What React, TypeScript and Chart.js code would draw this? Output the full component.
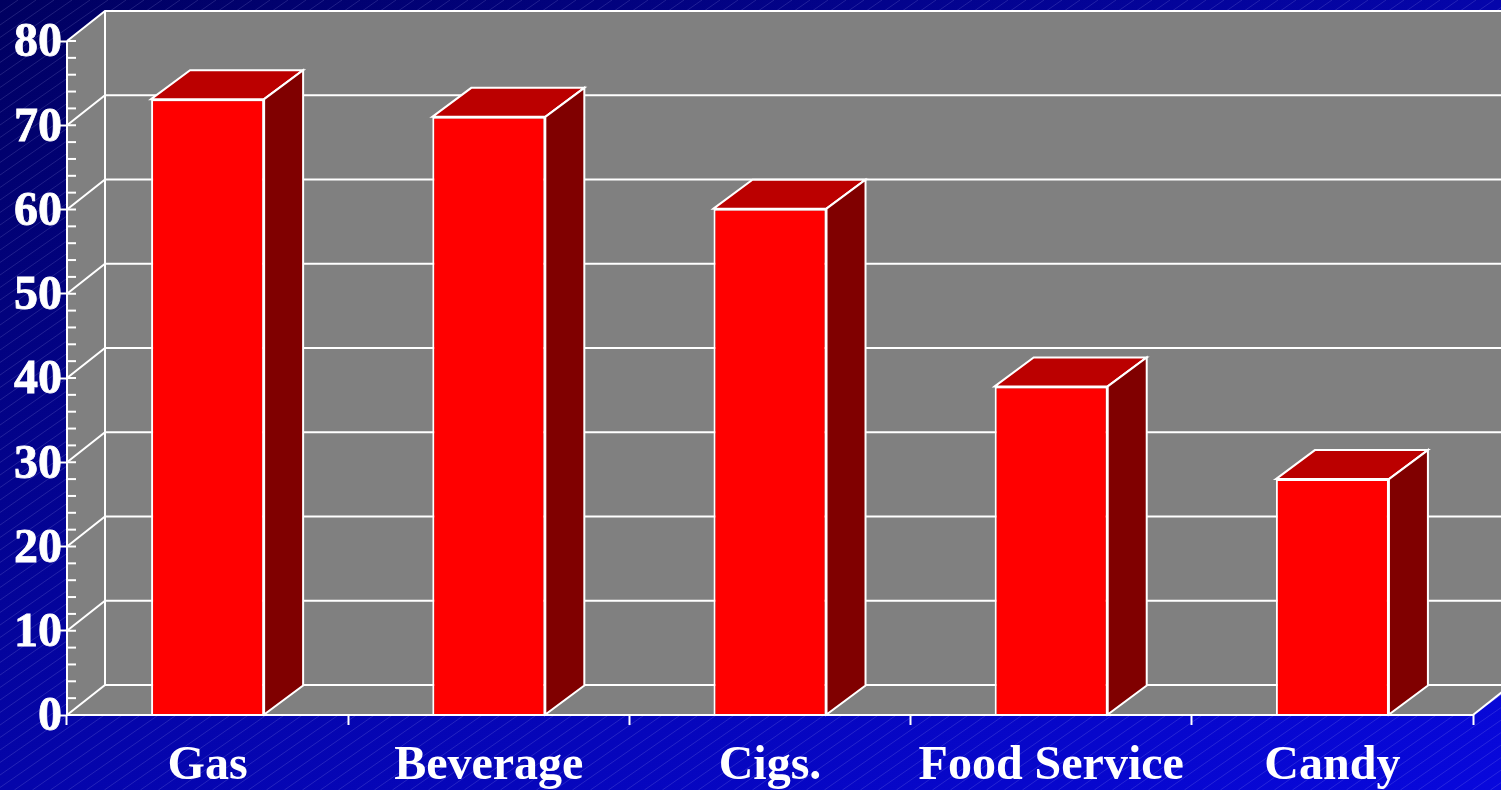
import React, { useEffect, useRef } from "react";
import { Chart, registerables } from "chart.js";

Chart.register(...registerables);

const categories = ["Gas", "Beverage", "Cigs.", "Food Service", "Candy"];
const values = [73.1, 71, 60.1, 39, 28];
const SERIF = '"Liberation Serif", "Times New Roman", serif';

// Projection of the box depth on screen.
const WALL_DX = 38;
const WALL_DY = 30;
const BAR_DX = 39;
const BAR_DY = 29;

const paintBackdrop = {
  id: "backdrop",
  beforeDraw(chart: any) {
    const { ctx, width: w, height: h } = chart;
    ctx.save();
    // Corner-to-corner gradient: the other two corners share the middle colour
    const len = Math.hypot(w, h);
    const half = (w * h) / len;
    const dx = (h / len) * half;
    const dy = (w / len) * half;
    const g = ctx.createLinearGradient(w / 2 - dx, h / 2 - dy, w / 2 + dx, h / 2 + dy);
    g.addColorStop(0, "#000060");
    g.addColorStop(0.5, "#0505aa");
    g.addColorStop(1, "#0808dc");
    ctx.fillStyle = g;
    ctx.fillRect(0, 0, w, h);
    // Fine diagonal hatching
    ctx.strokeStyle = "rgba(200,200,255,0.16)";
    ctx.lineWidth = 1;
    const step = 18;
    const run = h * 1.44;
    for (let x = -run; x < w + step; x += step) {
      ctx.beginPath();
      ctx.moveTo(x, h);
      ctx.lineTo(x + run, 0);
      ctx.stroke();
    }
    ctx.restore();
  },
};

function poly(ctx: any, pts: number[][], fill: string) {
  ctx.beginPath();
  pts.forEach(([x, y], i) => (i ? ctx.lineTo(x, y) : ctx.moveTo(x, y)));
  ctx.closePath();
  ctx.fillStyle = fill;
  ctx.fill();
  ctx.strokeStyle = "#ffffff";
  ctx.stroke();
}

const paintBox = {
  id: "box",
  beforeDatasetsDraw(chart: any) {
    const { ctx, chartArea: a, scales, width } = chart;
    const y = scales.y;
    const far = width + 20;
    ctx.save();
    ctx.fillStyle = "#808080";

    // Back wall, side wall and floor
    ctx.fillRect(a.left + WALL_DX, a.top - WALL_DY, far, a.bottom - a.top);
    ctx.beginPath();
    ctx.moveTo(a.left, a.top);
    ctx.lineTo(a.left + WALL_DX, a.top - WALL_DY);
    ctx.lineTo(a.left + WALL_DX, a.bottom - WALL_DY);
    ctx.lineTo(a.left, a.bottom);
    ctx.closePath();
    ctx.fill();
    ctx.beginPath();
    ctx.moveTo(a.left, a.bottom);
    ctx.lineTo(a.left + WALL_DX, a.bottom - WALL_DY);
    ctx.lineTo(a.right + WALL_DX, a.bottom - WALL_DY);
    ctx.lineTo(a.right, a.bottom);
    ctx.closePath();
    ctx.fill();

    // Grid lines wrap from the side wall onto the back wall
    ctx.strokeStyle = "#ffffff";
    ctx.lineWidth = 2;
    y.ticks
      .filter((t: any) => t.value % 10 === 0)
      .forEach((t: any) => {
        const py = y.getPixelForValue(t.value);
        ctx.beginPath();
        ctx.moveTo(a.left, py);
        ctx.lineTo(a.left + WALL_DX, py - WALL_DY);
        ctx.lineTo(far, py - WALL_DY);
        ctx.stroke();
      });

    // Vertical back corner and floor's right edge
    ctx.beginPath();
    ctx.moveTo(a.left + WALL_DX, a.top - WALL_DY);
    ctx.lineTo(a.left + WALL_DX, a.bottom - WALL_DY);
    ctx.stroke();
    ctx.beginPath();
    ctx.moveTo(a.right, a.bottom);
    ctx.lineTo(a.right + WALL_DX, a.bottom - WALL_DY);
    ctx.stroke();

    // Inner tick marks on the value axis
    y.ticks.forEach((t: any) => {
      const py = y.getPixelForValue(t.value);
      ctx.beginPath();
      ctx.moveTo(a.left, py);
      ctx.lineTo(a.left + 9, py);
      ctx.stroke();
    });

    // Top and side faces of each bar
    ctx.lineWidth = 2;
    chart.getDatasetMeta(0).data.forEach((bar: any) => {
      const l = bar.x - bar.width / 2;
      const r = bar.x + bar.width / 2;
      poly(ctx, [[l, bar.y], [l + BAR_DX, bar.y - BAR_DY], [r + BAR_DX, bar.y - BAR_DY], [r, bar.y]], "#bb0000");
      poly(ctx, [[r, bar.y], [r + BAR_DX, bar.y - BAR_DY], [r + BAR_DX, bar.base - BAR_DY], [r, bar.base]], "#800000");
    });
    ctx.restore();
  },
  afterDraw(chart: any) {
    const { ctx, chartArea: a } = chart;
    ctx.save();
    ctx.strokeStyle = "#ffffff";
    ctx.lineWidth = 2;
    ctx.beginPath();
    ctx.moveTo(a.left, a.top);
    ctx.lineTo(a.left, a.bottom);
    ctx.lineTo(a.right, a.bottom);
    ctx.stroke();
    ctx.restore();
  },
};

export default function App() {
  const ref = useRef<HTMLCanvasElement>(null);
  useEffect(() => {
    const chart = new Chart(ref.current as HTMLCanvasElement, {
      type: "bar",
      data: {
        labels: categories,
        datasets: [
          {
            data: values,
            backgroundColor: "#ff0000",
            borderColor: "#ffffff",
            borderWidth: 2,
            barPercentage: 0.402,
            categoryPercentage: 1,
          },
        ],
      },
      plugins: [paintBackdrop, paintBox],
      options: {
        animation: false,
        responsive: false,
        layout: { padding: { top: 41, right: 28, bottom: 0, left: 0 } },
        plugins: { legend: { display: false }, title: { display: false }, tooltip: { enabled: false } },
        scales: {
          x: {
            afterFit: (s: any) => {
              s.height = 75;
            },
            grid: { drawOnChartArea: false, drawTicks: true, tickLength: 10, tickWidth: 2, tickColor: "#ffffff", color: "#ffffff" },
            border: { display: false },
            ticks: {
              color: "#ffffff",
              font: { family: SERIF, weight: "bold", size: 48 },
              maxRotation: 0,
              padding: 13,
            },
          },
          y: {
            min: 0,
            max: 80,
            afterFit: (s: any) => {
              s.width = 67;
            },
            grid: {
              drawOnChartArea: false,
              tickLength: 8,
              tickWidth: 2,
              tickColor: (c: any) => (c.tick.value % 10 === 0 ? "#ffffff" : "rgba(0,0,0,0)"),
            },
            border: { display: false },
            ticks: {
              stepSize: 2,
              autoSkip: false,
              color: "#ffffff",
              textStrokeColor: "#ffffff",
              textStrokeWidth: 0.8,
              // A blank first line of 6px nudges each number just below its tick
              font: { family: SERIF, weight: "bold", size: 48, lineHeight: "6px" },
              padding: -3,
              callback: (v: any) => (Number(v) % 10 === 0 ? ["", String(v)] : ""),
            },
          },
        },
      },
    } as any);
    return () => chart.destroy();
  }, []);
  return <canvas ref={ref} width={1501} height={790} style={{ position: "fixed", left: 0, top: 0, display: "block" }} />;
}
